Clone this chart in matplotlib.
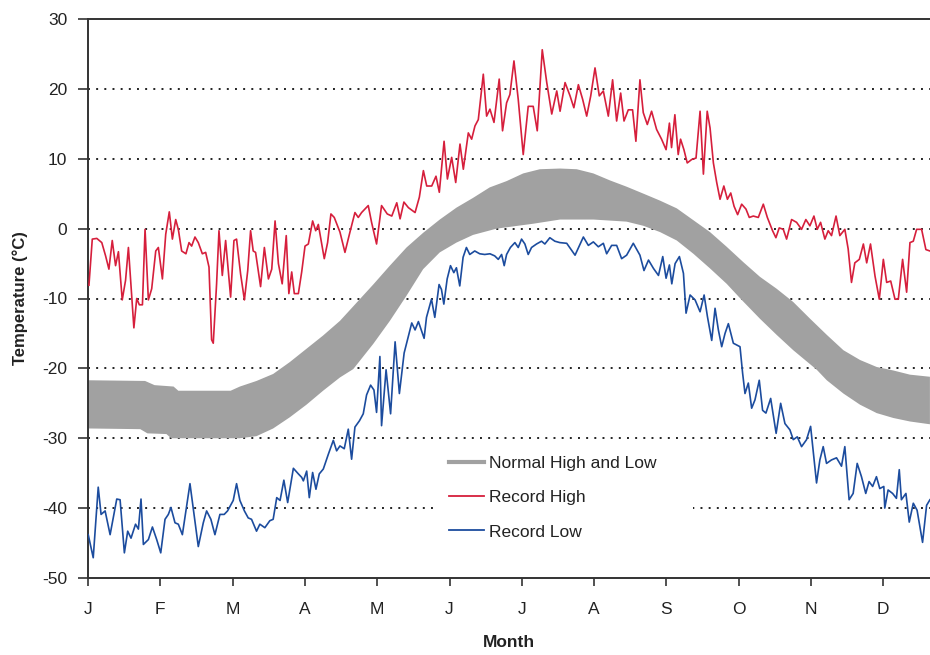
import numpy as np
import matplotlib.pyplot as plt
from matplotlib.lines import Line2D

plt.rcParams['font.family'] = ['Liberation Sans', 'DejaVu Sans']
plt.rcParams['axes.unicode_minus'] = False

# month labels, ticks at the start of each month (day of year)
months = ['J', 'F', 'M', 'A', 'M', 'J', 'J', 'A', 'S', 'O', 'N', 'D']
month_days = np.arange(12) * 365 / 12

# normal high / low (day, deg C)
normal_high = [(0, -21.7), (24, -21.8), (28, -22.4), (36, -22.6), (38, -23.2), (60, -23.2),
               (63.9, -22.6), (70.9, -21.8), (77.9, -20.8), (84.9, -19.1), (91.9, -17.2),
               (98.9, -15.3), (106.0, -13.2), (113.0, -10.6), (120.0, -8.0), (127.0, -5.3),
               (134.0, -2.7), (141.0, -0.6), (148.0, 1.3), (155.0, 3.0), (162.0, 4.4),
               (169.0, 5.9), (176.1, 6.8), (183.1, 7.9), (190.1, 8.5), (198.6, 8.6),
               (205.6, 8.5), (212.6, 7.9), (219.6, 6.9), (226.6, 6.0), (233.7, 5.0),
               (240.7, 4.0), (247.7, 2.9), (254.7, 1.2), (261.7, -0.5), (268.7, -2.6),
               (275.7, -4.8), (282.7, -6.9), (289.7, -8.6), (296.7, -10.5), (303.8, -12.9),
               (310.8, -15.2), (317.8, -17.4), (324.8, -18.8), (331.8, -19.8), (338.8, -20.3),
               (345.8, -20.9), (354.2, -21.2)]
normal_low = [(0, -28.6), (22, -28.7), (25, -29.3), (33, -29.4), (35, -30.0), (63.9, -30.0),
              (70.9, -29.7), (77.9, -28.6), (84.9, -27.0), (91.9, -25.2), (98.9, -23.2),
              (106.0, -21.3), (111.6, -20.1), (120.0, -16.5), (127.0, -13.2), (134.0, -9.6),
              (141.0, -5.8), (148.0, -3.4), (155.0, -2.0), (162.0, -0.9), (171.9, 0.0),
              (187.3, 0.7), (198.6, 1.3), (212.6, 1.3), (226.6, 1.0), (233.7, 0.4),
              (240.7, -0.5), (247.7, -1.7), (254.7, -3.6), (261.7, -5.7), (268.7, -7.9),
              (275.0, -10.2), (282.7, -12.9), (289.7, -15.2), (296.7, -17.4), (306.6, -20.2),
              (310.8, -21.7), (317.8, -23.6), (324.8, -25.2), (331.8, -26.4), (338.8, -27.1),
              (345.8, -27.6), (354.2, -28.0)]

# record high (day, deg C)
record_high = [
    (0.4, -8.1), (1.8, -1.5), (3.7, -1.4), (5.8, -2.0), (7.4, -3.9), (8.8, -5.8),
    (10.2, -1.7), (11.6, -5.3), (12.8, -3.3), (14.4, -10.2), (15.8, -7.4), (17.0, -2.7),
    (19.3, -14.2), (20.5, -10.0), (21.6, -10.9), (22.9, -10.9), (24.0, -0.1), (25.4, -10.2),
    (26.8, -8.6), (28.5, -3.2), (29.6, -2.7), (31.3, -7.2), (32.7, -0.8), (34.2, 2.4),
    (35.5, -1.5), (36.9, 1.3), (38.0, -0.1), (39.4, -3.2), (41.2, -3.6), (42.5, -2.0),
    (43.6, -2.5), (45.0, -1.2), (46.4, -2.0), (48.1, -3.6), (49.5, -3.4), (50.9, -5.5),
    (52.0, -15.9), (52.7, -16.4), (54.1, -7.9), (55.1, -0.3), (56.5, -6.7), (57.9, -1.7),
    (60.0, -9.8), (61.4, -1.7), (62.5, -1.5), (64.2, -6.5), (65.8, -10.2), (67.2, -6.0),
    (68.4, -0.3), (69.5, -3.2), (70.5, -3.4), (72.6, -8.3), (74.2, -2.7), (75.9, -7.2),
    (77.3, -5.8), (78.7, 1.1), (80.1, -5.0), (81.7, -7.9), (83.4, -1.0), (84.5, -9.3),
    (85.7, -6.2), (86.8, -9.3), (88.5, -9.3), (89.9, -6.2), (91.3, -2.5), (92.7, -2.2),
    (94.5, 1.1), (95.8, -0.3), (96.9, 0.6), (99.4, -4.3), (100.8, -2.0), (102.2, 2.1),
    (103.6, 1.6), (106.0, -0.5), (108.1, -3.4), (110.2, -0.5), (112.3, 2.3), (113.7, 1.6),
    (115.1, 2.3), (117.9, 3.3), (119.3, 0.9), (121.4, -2.2), (123.5, 3.3), (125.9, 2.1),
    (127.8, 1.8), (129.9, 3.7), (131.3, 1.4), (132.9, 3.8), (134.8, 3.0), (137.6, 2.3),
    (139.4, 4.5), (141.1, 8.3), (142.5, 6.1), (144.6, 6.1), (146.4, 7.5), (147.8, 5.2),
    (149.8, 12.5), (151.2, 7.1), (153.0, 10.2), (154.7, 6.6), (156.5, 12.1), (157.9, 8.5),
    (160.0, 13.7), (161.4, 12.8), (162.8, 14.7), (164.2, 15.6), (166.3, 22.1), (167.7, 16.1),
    (169.1, 17.1), (170.8, 15.2), (173.0, 21.4), (174.4, 14.0), (176.1, 18.0), (177.5, 19.2),
    (179.2, 24.0), (181.0, 18.5), (183.1, 10.6), (185.2, 17.5), (187.3, 17.5), (189.0, 14.0),
    (191.1, 25.6), (193.0, 20.9), (195.1, 16.4), (197.2, 19.7), (198.6, 16.8), (200.7, 20.9),
    (202.8, 19.0), (204.4, 17.3), (206.3, 20.6), (208.1, 18.5), (209.8, 16.1), (211.5, 19.0),
    (213.3, 23.0), (215.1, 19.0), (216.8, 19.7), (218.9, 16.1), (220.7, 21.3), (222.4, 15.4),
    (224.1, 19.4), (225.5, 15.4), (227.3, 17.0), (229.1, 17.0), (230.5, 12.5), (232.2, 21.3),
    (233.6, 16.6), (235.3, 14.9), (237.1, 16.8), (239.2, 14.2), (241.3, 12.8), (243.2, 11.3),
    (244.6, 15.1), (245.5, 11.6), (246.9, 16.3), (248.3, 10.6), (249.3, 12.8), (250.7, 11.3),
    (252.1, 9.4), (254.0, 9.9), (255.8, 10.1), (257.5, 16.8), (258.9, 7.8), (260.5, 16.8),
    (261.7, 14.4), (263.1, 9.4), (264.5, 6.6), (265.9, 4.2), (267.5, 6.1), (269.0, 4.2),
    (270.4, 5.1), (271.8, 3.2), (273.3, 2.0), (275.0, 3.5), (276.8, 2.8), (278.2, 1.6),
    (279.9, 1.8), (282.0, 1.6), (284.1, 3.5), (285.8, 1.6), (288.0, -0.3), (289.4, -1.3),
    (290.8, 0.1), (292.5, -0.1), (293.9, -1.5), (296.0, 1.3), (298.1, 0.9), (300.2, -0.1),
    (302.0, 1.3), (303.7, 0.4), (305.4, 1.8), (306.8, -0.1), (308.2, 0.9), (310.0, -1.5),
    (311.4, -0.3), (312.8, -1.0), (314.7, 1.8), (316.3, -1.0), (318.4, -0.1), (319.8, -2.9),
    (321.2, -7.7), (322.6, -4.9), (324.5, -4.4), (326.2, -2.2), (327.6, -4.9), (329.2, -2.2),
    (331.1, -6.8), (332.9, -10.1), (334.6, -4.4), (336.0, -7.7), (337.7, -7.5), (339.5, -10.1),
    (340.9, -10.1), (342.7, -4.4), (344.4, -9.1), (345.8, -2.0), (347.2, -1.8), (348.6, -0.1),
    (350.7, -0.1), (352.5, -3.0), (354.2, -3.2)]

# record low (day, deg C)
record_low = [
    (0.1, -43.8), (2.2, -47.1), (4.3, -37.0), (5.5, -40.9), (7.2, -40.4), (9.3, -43.8),
    (12.1, -38.7), (13.5, -38.8), (15.3, -46.4), (16.7, -43.3), (18.1, -44.3), (20.0, -42.3),
    (21.2, -43.0), (22.3, -38.7), (23.3, -45.2), (25.4, -44.5), (27.1, -42.7), (28.9, -44.5),
    (30.6, -46.4), (32.4, -41.6), (33.8, -40.9), (34.9, -39.9), (36.6, -42.1), (38.0, -42.3),
    (39.7, -43.8), (41.5, -39.7), (42.9, -36.5), (44.3, -40.1), (46.4, -45.5), (48.5, -42.1),
    (49.9, -40.4), (51.7, -41.6), (53.4, -43.8), (55.5, -40.9), (57.3, -40.9), (58.7, -40.4),
    (61.1, -38.9), (62.5, -36.5), (63.9, -38.9), (65.8, -40.4), (67.4, -41.4), (68.8, -41.6),
    (70.9, -43.3), (72.3, -42.3), (74.4, -42.8), (76.5, -41.8), (77.9, -41.6), (79.4, -38.5),
    (80.8, -38.9), (82.4, -36.0), (84.0, -39.2), (86.4, -34.3), (88.5, -35.1), (89.9, -35.6),
    (90.6, -36.1), (92.0, -34.7), (93.1, -38.5), (94.5, -34.9), (95.9, -37.3), (97.3, -35.1),
    (99.0, -34.4), (101.1, -32.3), (103.2, -30.3), (104.6, -31.8), (106.0, -31.1), (107.8, -31.5),
    (109.5, -28.7), (110.9, -33.0), (112.3, -28.4), (114.2, -27.5), (115.8, -26.5), (117.2, -23.8),
    (118.9, -22.4), (120.3, -23.1), (121.4, -26.3), (122.8, -18.3), (123.5, -28.2), (125.4, -20.2),
    (127.3, -26.5), (129.2, -16.2), (131.0, -23.6), (133.0, -17.8), (134.8, -15.4), (136.2, -13.5),
    (137.6, -14.5), (139.0, -13.3), (141.4, -15.7), (142.4, -12.7), (144.5, -10.1), (145.9, -12.7),
    (147.7, -8.0), (148.7, -8.7), (149.7, -10.8), (151.1, -7.2), (152.5, -5.3), (153.9, -6.3),
    (155.0, -5.6), (156.4, -8.2), (157.8, -4.1), (159.2, -2.7), (160.6, -3.7), (162.7, -3.2),
    (164.8, -3.6), (166.9, -3.7), (169.1, -3.6), (171.1, -3.9), (172.6, -4.4), (174.0, -3.7),
    (175.1, -5.3), (176.1, -3.7), (177.7, -2.7), (179.6, -2.0), (181.0, -2.7), (182.4, -1.5),
    (183.8, -2.2), (185.2, -3.7), (186.6, -2.7), (188.7, -2.2), (190.8, -1.8), (192.2, -2.2),
    (194.3, -1.3), (196.4, -1.8), (198.5, -2.0), (201.4, -2.1), (204.9, -3.8), (208.4, -1.2),
    (210.5, -2.4), (212.6, -1.9), (214.7, -2.6), (216.8, -2.1), (218.2, -3.6), (220.3, -2.4),
    (222.4, -2.4), (224.5, -4.3), (226.6, -3.8), (229.4, -2.1), (232.2, -3.8), (233.9, -6.0),
    (235.8, -4.5), (237.9, -5.7), (240.0, -6.7), (241.8, -4.0), (243.2, -7.1), (244.6, -5.2),
    (245.6, -7.9), (247.0, -5.0), (248.8, -4.0), (250.5, -6.4), (251.6, -12.1), (253.3, -9.5),
    (255.4, -10.2), (257.5, -11.9), (259.2, -9.5), (260.6, -12.6), (262.4, -16.0), (263.8, -11.4),
    (265.2, -14.5), (266.6, -16.9), (268.0, -15.0), (269.4, -13.6), (271.5, -16.4), (274.3, -16.9),
    (275.4, -20.7), (276.4, -23.6), (277.8, -22.1), (279.2, -25.7), (280.6, -24.5), (282.4, -21.7),
    (283.8, -26.0), (285.2, -26.4), (287.2, -24.3), (289.5, -29.3), (291.4, -25.0), (293.2, -27.9),
    (295.3, -28.8), (296.7, -30.2), (298.4, -29.8), (300.2, -31.2), (302.3, -30.2), (304.0, -28.3),
    (306.5, -36.4), (307.9, -33.1), (309.3, -31.2), (310.7, -33.6), (312.8, -33.1), (314.9, -32.8),
    (317.0, -34.0), (318.4, -31.2), (320.2, -38.8), (321.9, -37.9), (323.6, -33.6), (325.4, -35.5),
    (327.2, -37.9), (328.6, -36.2), (330.1, -36.9), (331.7, -35.5), (333.1, -37.2), (334.8, -36.9),
    (335.2, -40.0), (336.6, -37.4), (338.5, -37.9), (340.1, -38.6), (341.3, -34.5), (342.2, -38.8),
    (344.1, -37.9), (345.5, -42.0), (347.2, -39.3), (348.8, -40.3), (351.1, -44.9), (352.8, -39.6),
    (354.2, -38.8)]

nh_d, nh_t = zip(*normal_high)
nl_d, nl_t = zip(*normal_low)
rh_d, rh_t = zip(*record_high)
rl_d, rl_t = zip(*record_low)

fig = plt.figure(figsize=(9.3, 6.55), dpi=100)
ax = fig.add_axes([88 / 930, 77 / 655, 842 / 930, 559 / 655])

band_x = np.concatenate([nh_d, nl_d[::-1]])
band_y = np.concatenate([nh_t, nl_t[::-1]])
ax.fill(band_x, band_y, color='#a1a1a1', lw=0, zorder=2)

ax.plot(rh_d, rh_t, color='#d61f3c', lw=1.2, zorder=3)
ax.plot(rl_d, rl_t, color='#1c4c9e', lw=1.2, zorder=3)

for t in range(-40, 30, 10):
    ax.axhline(t, color='#222222', lw=1.4, ls=(0, (1, 3.2)), zorder=1)

ax.set_xlim(0, 842 / 72.3 * 365 / 12)
ax.set_ylim(-50, 30)
ax.set_xticks(month_days)
ax.set_xticklabels(months)
ax.set_yticks(range(-50, 31, 10))

ax.spines['right'].set_visible(False)
for s in ['left', 'bottom', 'top']:
    ax.spines[s].set_linewidth(1.4)
    ax.spines[s].set_color('#333333')
ax.tick_params(axis='y', direction='out', length=7, width=1.2, pad=8,
               labelsize=12.5, colors='#333333', labelcolor='#222222')
ax.tick_params(axis='x', direction='out', length=6, width=1.2, pad=11,
               labelsize=12.5, colors='#333333', labelcolor='#222222')

ax.set_xlabel('Month', fontsize=12.5, fontweight='bold', color='#222222', labelpad=13)
ax.set_ylabel('Temperature (°C)', fontsize=12, fontweight='bold', color='#222222', labelpad=10)

handles = [Line2D([], [], color='#a1a1a1', lw=3),
           Line2D([], [], color='#d61f3c', lw=1.3),
           Line2D([], [], color='#1c4c9e', lw=1.3)]
labels = ['Normal High and Low', 'Record High', 'Record Low']
leg = ax.legend(handles, labels, loc='upper left', bbox_to_anchor=(0.4, 0.262, 0.329, 0.0),
                mode='expand', frameon=True, fontsize=12.5, handlelength=2.0,
                handletextpad=0.3, labelspacing=1.1, borderpad=0.9)
leg.get_frame().set_facecolor('white')
leg.get_frame().set_edgecolor('none')
leg.get_frame().set_alpha(1)
leg.set_zorder(5)
for txt in leg.get_texts():
    txt.set_color('#222222')

fig.savefig('out.png', dpi=100)
